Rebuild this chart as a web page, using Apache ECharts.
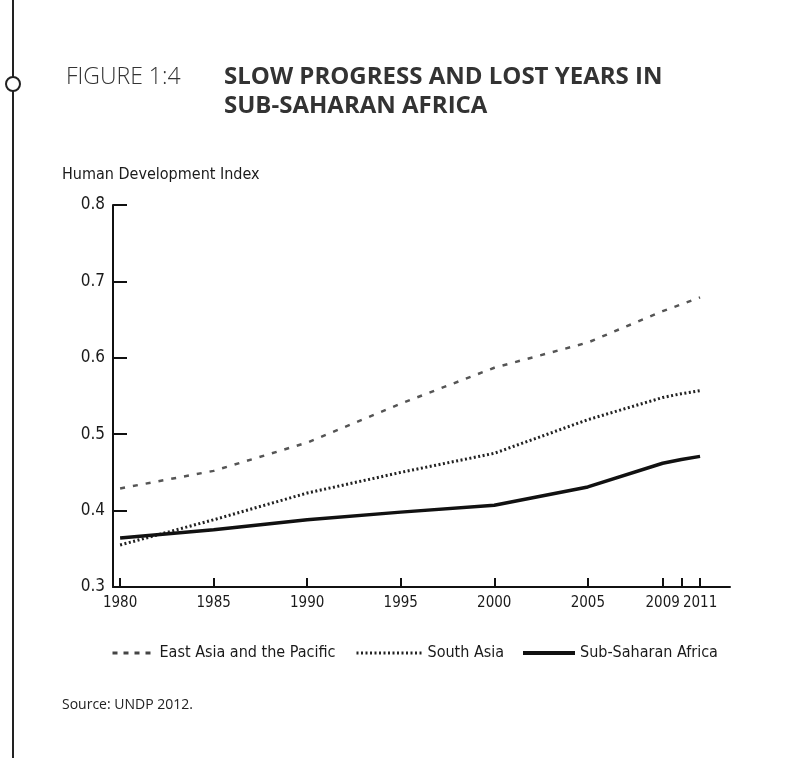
<!DOCTYPE html>
<html>
<head>
<meta charset="utf-8">
<script src="https://cdn.jsdelivr.net/npm/echarts@6/dist/echarts.min.js"></script>
<style>
html,body{margin:0;padding:0;background:#fff;}
#chart{width:800px;height:758px;}
</style>
</head>
<body>
<div id="chart"></div>
<script>
const years = [1980, 1985, 1990, 1995, 2000, 2005, 2009, 2010, 2011];
const eastAsia = [0.429, 0.452, 0.489, 0.540, 0.587, 0.620, 0.661, 0.670, 0.679];
const southAsia = [0.355, 0.388, 0.423, 0.450, 0.475, 0.519, 0.548, 0.553, 0.557];
const subSaharan = [0.364, 0.375, 0.388, 0.398, 0.407, 0.431, 0.462, 0.467, 0.471];
const xTicks = [1980, 1985, 1990, 1995, 2000, 2005, 2009, 2010, 2011];
const xLabels = [1980, 1985, 1990, 1995, 2000, 2005, 2009, 2011];
const seriesNames = ['East Asia and the Pacific', 'South Asia', 'Sub-Saharan Africa'];

const narrow = "'DejaVu Sans Condensed', Lato, sans-serif";
const pair = (arr) => years.map((y, i) => [y, arr[i]]);

const chart = echarts.init(document.getElementById('chart'), null, {renderer: 'canvas'});
const legendText = {fontFamily: narrow, fontSize: 16, color: '#1a1a1a'};
const legendBase = {top: 640, itemHeight: 14, itemGap: 8, textStyle: legendText, itemStyle: {opacity: 0}, selectedMode: false};
chart.setOption({
  backgroundColor: '#ffffff',
  animation: false,
  grid: {left: 113, right: 70, top: 205, bottom: 171},
  xAxis: {
    type: 'value', min: 1979.62, max: 2012.6,
    axisLine: {show: true, lineStyle: {color: '#111', width: 2}},
    axisTick: {show: true, inside: true, length: 9, customValues: xTicks, lineStyle: {color: '#111', width: 2}},
    axisLabel: {customValues: xLabels, formatter: v => String(v), fontFamily: narrow, fontSize: 15, color: '#1a1a1a', margin: 9},
    splitLine: {show: false}
  },
  yAxis: {
    type: 'value', min: 0.3, max: 0.8, interval: 0.1,
    axisLine: {show: true, lineStyle: {color: '#111', width: 2}},
    axisTick: {show: true, inside: true, length: 14, lineStyle: {color: '#111', width: 2}},
    axisLabel: {formatter: v => v.toFixed(1), fontFamily: narrow, fontSize: 17, color: '#1a1a1a', margin: 8},
    splitLine: {show: false}
  },
  legend: [
    Object.assign({}, legendBase, {data: [seriesNames[0]], left: 106, itemWidth: 42, lineStyle: {width: 3, type: [5, 6], color: '#444'}}),
    Object.assign({}, legendBase, {data: [seriesNames[1]], left: 350, itemWidth: 66, lineStyle: {width: 3, type: [2, 2.5], color: '#222'}}),
    Object.assign({}, legendBase, {data: [seriesNames[2]], left: 516, itemWidth: 52, lineStyle: {width: 4, type: 'solid', color: '#111'}})
  ],
  series: [
    {name: seriesNames[0], type: 'line', data: pair(eastAsia), symbol: 'none', showSymbol: false,
     lineStyle: {color: '#555', width: 2.5, type: [5, 8]}, itemStyle: {color: '#555'}},
    {name: seriesNames[1], type: 'line', data: pair(southAsia), symbol: 'none', showSymbol: false,
     lineStyle: {color: '#222', width: 3, type: [2, 2.5]}, itemStyle: {color: '#222'}},
    {name: seriesNames[2], type: 'line', data: pair(subSaharan), symbol: 'none', showSymbol: false,
     lineStyle: {color: '#111', width: 3.5, type: 'solid'}, itemStyle: {color: '#111'}}
  ],
  graphic: [
    {type: 'line', shape: {x1: 13, y1: 0, x2: 13, y2: 758}, style: {stroke: '#222', lineWidth: 2}},
    {type: 'circle', shape: {cx: 13, cy: 84, r: 7}, style: {fill: '#fff', stroke: '#222', lineWidth: 2}},
    {type: 'text', left: 66, top: 66, style: {text: 'FIGURE 1:4', fontFamily: 'Open Sans', fontSize: 23, fontWeight: 300, fill: '#333'}},
    {type: 'text', left: 224, top: 63, style: {text: 'SLOW PROGRESS AND LOST YEARS IN\nSUB-SAHARAN AFRICA', fontFamily: 'Open Sans', fontSize: 24, fontWeight: 'bold', lineHeight: 29, fill: '#333'}},
    {type: 'text', left: 62, top: 167, style: {text: 'Human Development Index', fontFamily: narrow, fontSize: 16, fill: '#1a1a1a'}},
    {type: 'text', left: 62, top: 698, style: {text: 'Source: UNDP 2012.', fontFamily: 'Open Sans', fontSize: 14, fill: '#222'}}
  ]
});
</script>
</body>
</html>
